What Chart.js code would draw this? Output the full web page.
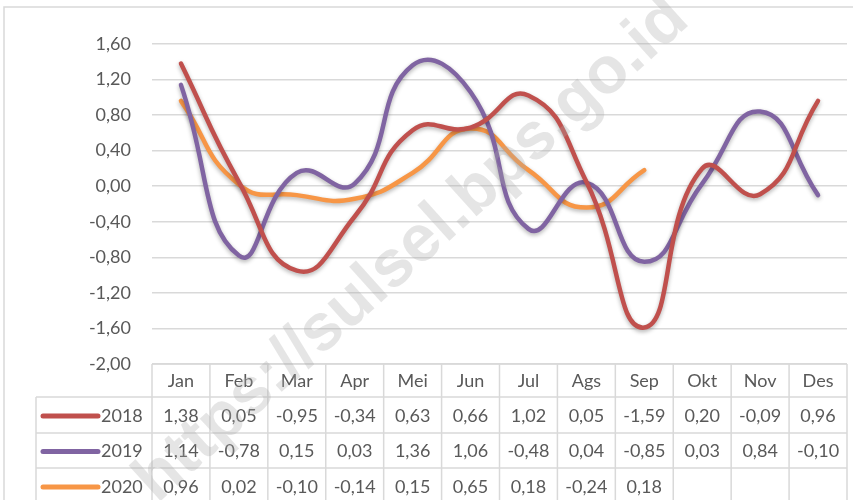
<!DOCTYPE html>
<html>
<head>
<meta charset="utf-8">
<script src="https://cdn.jsdelivr.net/npm/chart.js@4/dist/chart.umd.min.js"></script>
<style>
  html, body { margin: 0; padding: 0; background: #fff; }
  #wrap { width: 853px; height: 500px; }
</style>
</head>
<body>
<div id="wrap"><canvas id="c" width="853" height="500"></canvas></div>
<script>
// monthly values per year
const months = ['Jan', 'Feb', 'Mar', 'Apr', 'Mei', 'Jun', 'Jul', 'Ags', 'Sep', 'Okt', 'Nov', 'Des'];
const years = ['2018', '2019', '2020'];
const values2018 = [1.38, 0.05, -0.95, -0.34, 0.63, 0.66, 1.02, 0.05, -1.59, 0.20, -0.09, 0.96];
const values2019 = [1.14, -0.78, 0.15, 0.03, 1.36, 1.06, -0.48, 0.04, -0.85, 0.03, 0.84, -0.10];
const values2020 = [0.96, 0.02, -0.10, -0.14, 0.15, 0.65, 0.18, -0.24, 0.18];
const colors = ['#C0504D', '#8064A2', '#F79646'];
const yMin = -2.0, yMax = 1.6, yStep = 0.4;

const FONT = 'Lato, "Noto Sans", sans-serif';
const fmt = v => v.toFixed(2).replace('.', ',');

// frame + thin border round the chart
const framePlugin = {
  id: 'frame',
  beforeDraw(chart) {
    const ctx = chart.ctx;
    ctx.save();
    ctx.strokeStyle = '#d9d9d9';
    ctx.lineWidth = 1.5;
    ctx.strokeRect(4, 7, 900, 600);
    ctx.restore();
  }
};

// soft shadow under the lines, like excel
const shadowPlugin = {
  id: 'shadow',
  beforeDatasetDraw(chart) {
    const ctx = chart.ctx;
    ctx.save();
    ctx.shadowColor = 'rgba(0,0,0,0.3)';
    ctx.shadowBlur = 4;
    ctx.shadowOffsetY = 2;
  },
  afterDatasetDraw(chart) {
    chart.ctx.restore();
  }
};

// data table under the plot
const tablePlugin = {
  id: 'dataTable',
  afterDatasetsDraw(chart) {
    const ctx = chart.ctx;
    const x = chart.scales.x;
    const area = chart.chartArea;
    const n = months.length;
    const colW = (area.right - area.left) / n;
    const top = area.bottom;
    const rowH = [33, 36, 35, 36];
    const rowsY = [top];
    rowH.forEach((h, i) => rowsY.push(rowsY[i] + h));
    const keyLeft = 36;

    ctx.save();
    ctx.strokeStyle = '#d9d9d9';
    ctx.lineWidth = 1.5;
    // horizontal lines
    ctx.beginPath();
    ctx.moveTo(area.left, rowsY[0]); ctx.lineTo(area.right, rowsY[0]);
    for (let r = 1; r < rowsY.length; r++) {
      ctx.moveTo(keyLeft, rowsY[r]); ctx.lineTo(area.right, rowsY[r]);
    }
    // vertical lines
    for (let i = 0; i <= n; i++) {
      const px = area.left + i * colW;
      ctx.moveTo(px, rowsY[0]); ctx.lineTo(px, rowsY[rowsY.length - 1]);
    }
    ctx.moveTo(keyLeft, rowsY[1]); ctx.lineTo(keyLeft, rowsY[rowsY.length - 1]);
    ctx.stroke();

    ctx.fillStyle = '#595959';
    ctx.font = '18px ' + FONT;
    ctx.textBaseline = 'middle';
    ctx.textAlign = 'center';
    months.forEach((m, i) => {
      ctx.fillText(m, x.getPixelForValue(i), (rowsY[0] + rowsY[1]) / 2 + 1);
    });

    chart.data.datasets.forEach((ds, r) => {
      const cy = (rowsY[r + 1] + rowsY[r + 2]) / 2 + 1;
      ctx.save();
      ctx.strokeStyle = ds.borderColor;
      ctx.lineWidth = 5;
      ctx.lineCap = 'round';
      ctx.beginPath();
      ctx.moveTo(43, cy); ctx.lineTo(98, cy);
      ctx.stroke();
      ctx.restore();
      ctx.textAlign = 'left';
      ctx.fillText(ds.label, 101, cy);
      ctx.textAlign = 'center';
      ds.data.forEach((v, i) => {
        if (v === null || v === undefined) return;
        ctx.fillText(fmt(v), x.getPixelForValue(i), cy);
      });
    });
    ctx.restore();
  },
  afterDraw(chart) {
    // watermark
    const ctx = chart.ctx;
    ctx.save();
    ctx.translate(412, 250);
    ctx.rotate(-42 * Math.PI / 180);
    ctx.font = 'bold 66px "Liberation Sans", Arial, sans-serif';
    ctx.fillStyle = 'rgba(170,170,170,0.3)';
    ctx.textAlign = 'center';
    ctx.textBaseline = 'middle';
    ctx.fillText('https://sulsel.bps.go.id', 0, 0);
    ctx.restore();
  }
};

const seriesValues = [values2018, values2019, values2020];

new Chart(document.getElementById('c'), {
  type: 'line',
  data: {
    labels: months,
    datasets: years.map((y, i) => ({
      label: y,
      data: seriesValues[i],
      borderColor: colors[i],
      backgroundColor: colors[i],
      borderWidth: 4.5,
      borderCapStyle: 'round',
      borderJoinStyle: 'round',
      pointRadius: 0,
      tension: 0.5,
      fill: false
    }))
  },
  options: {
    responsive: false,
    animation: false,
    layout: { padding: { top: 44, right: 6, bottom: 136, left: 0 } },
    plugins: {
      legend: { display: false },
      tooltip: { enabled: false }
    },
    scales: {
      x: {
        display: false,
        offset: true
      },
      y: {
        min: yMin,
        max: yMax,
        afterFit(s) { s.width = 152; },
        border: { display: false },
        grid: { color: '#d9d9d9', lineWidth: 1.5, drawTicks: false },
        ticks: {
          stepSize: yStep,
          padding: 21,
          color: '#595959',
          font: { family: FONT, size: 18 },
          callback: v => fmt(v)
        }
      }
    }
  },
  plugins: [framePlugin, shadowPlugin, tablePlugin]
});
</script>
</body>
</html>
